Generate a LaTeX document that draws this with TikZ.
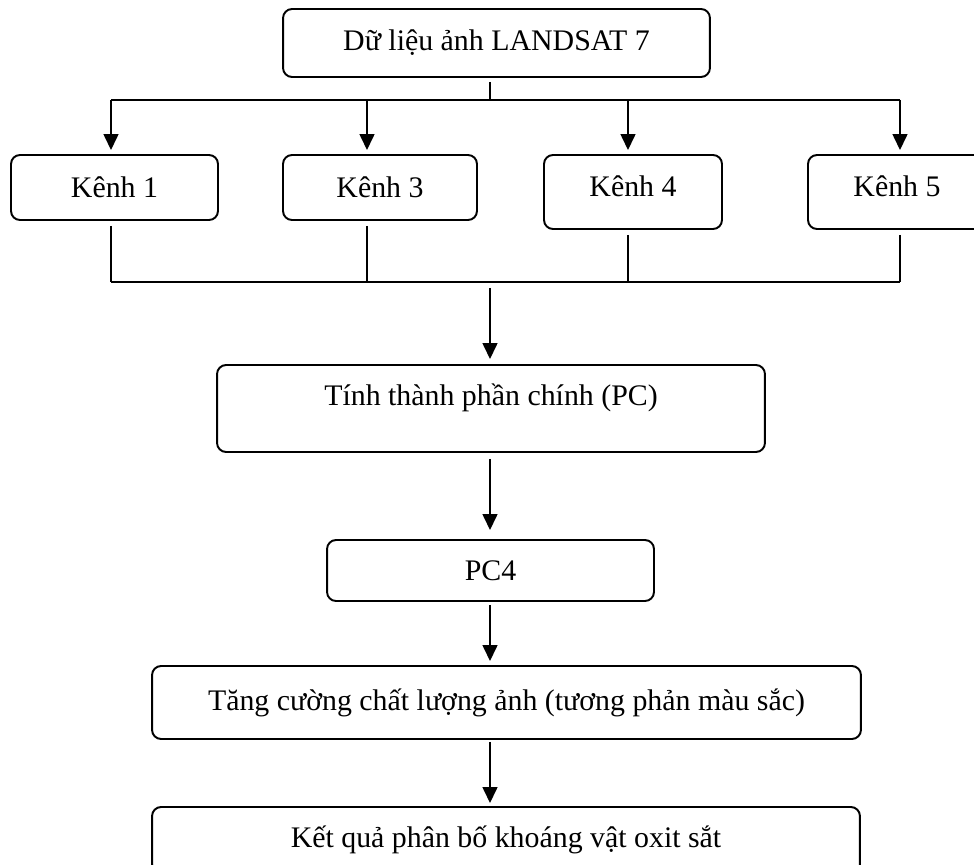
\documentclass[tikz,border=0pt]{standalone}
\usepackage{fontspec}
\setmainfont{Liberation Serif}
\usetikzlibrary{arrows.meta}

\begin{document}
\begin{tikzpicture}[
  x=0.02cm, y=-0.02cm,
  box/.style={draw=black, line width=1.1pt, rectangle, rounded corners=0.18cm,
              font=\fontsize{17}{20}\selectfont, inner sep=0pt,
              outer sep=0pt, anchor=center},
  link/.style={draw=black, line width=0.9pt},
  arr/.style={link, -{Triangle[width=0.3cm,length=0.32cm]}},
]
\useasboundingbox (0,0) rectangle (974,865);
\clip (0,0) rectangle (974,865);
% Boxes
\node[box, minimum width=8.54cm, minimum height=1.36cm] (src) at (496.5,43) {Dữ liệu ảnh LANDSAT 7};
\node[box, minimum width=4.14cm, minimum height=1.30cm] (k1) at (114.5,187.5) {Kênh 1};
\node[box, minimum width=3.88cm, minimum height=1.30cm] (k3) at (380,187.5) {Kênh 3};
\node[box, minimum width=3.56cm, minimum height=1.48cm, text depth=7pt] (k4) at (633,192) {Kênh 4};
\node[box, minimum width=3.56cm, minimum height=1.48cm, text depth=7pt] (k5) at (897,192) {Kênh 5};
\node[box, minimum width=10.96cm, minimum height=1.74cm, text depth=16pt] (pc) at (491,408.5) {Tính thành phần chính (PC)};
\node[box, minimum width=6.54cm, minimum height=1.22cm] (pc4) at (490.5,570.5) {PC4};
\node[box, minimum width=14.18cm, minimum height=1.46cm] (tang) at (506.5,702.5) {Tăng cường chất lượng ảnh (tương phản màu sắc)};
\node[box, minimum width=14.16cm, minimum height=1.32cm] (ket) at (506,840) {Kết quả phân bố khoáng vật oxit sắt};
% Split and merge buses
\coordinate (split) at (490,100);
\coordinate (merge) at (490,282);
\foreach \i/\x in {1/111, 3/367, 4/628, 5/900} {
  \coordinate (t\i) at (\x,100);
  \coordinate (d\i) at (\x,282);
}
\draw[link, shorten <=0.1cm] (src.south -| split) -- (split);
\draw[link] (t1) -- (t5);
\foreach \i in {1,3,4,5}
  \draw[arr, shorten >=0.1cm] (t\i) -- (t\i |- k\i.north);
\foreach \i in {1,3,4,5}
  \draw[link, shorten <=0.12cm] (d\i |- k\i.south) -- (d\i);
\draw[link] (d1) -- (d5);
% Main chain
\draw[arr, shorten <=0.12cm, shorten >=0.12cm] (merge) -- (merge |- pc.north);
\draw[arr, shorten <=0.14cm, shorten >=0.2cm] (pc.south -| split) -- (pc4.north -| split);
\draw[arr, shorten <=0.08cm, shorten >=0.1cm] (pc4.south -| split) -- (tang.north -| split);
\draw[arr, shorten <=0.06cm, shorten >=0.08cm] (tang.south -| split) -- (ket.north -| split);
\end{tikzpicture}
\end{document}
